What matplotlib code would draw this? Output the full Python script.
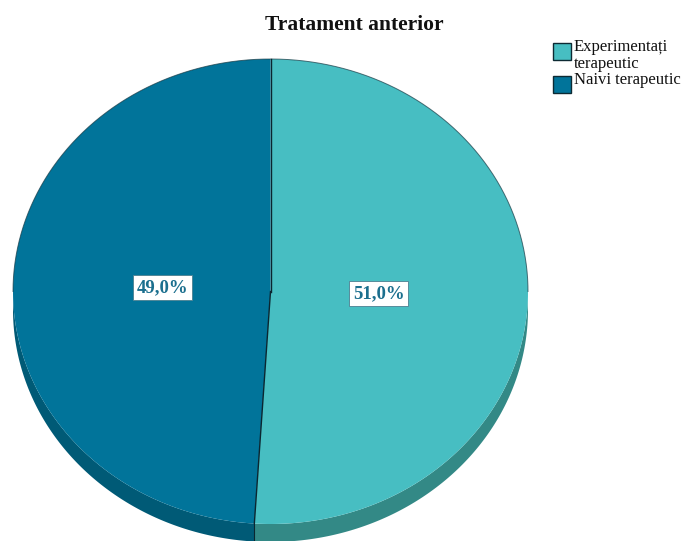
import numpy as np
import matplotlib
matplotlib.use("Agg")
import matplotlib.pyplot as plt
from matplotlib.patches import Polygon, Rectangle

# Data
categories = ["Experimentați\nterapeutic", "Naivi terapeutic"]
values = [51.0, 49.0]
labels = ["51,0%", "49,0%"]
title = "Tratament anterior"

top_colors = ["#47BEC2", "#01749A"]
side_colors = ["#338986", "#005A76"]
label_color = "#1B6F8E"

W, H = 686, 541
fig = plt.figure(figsize=(W / 100, H / 100), dpi=100)
ax = fig.add_axes([0, 0, 1, 1])
ax.set_xlim(0, W)
ax.set_ylim(H, 0)
ax.axis("off")

# Pie geometry (pixel units, y downwards)
cx, cy = 270.5, 291.5
rx, ry = 257.5, 232.5
depth = 18


def pt(theta, dy=0.0):
    """Point on the ellipse for a clockwise angle measured from 12 o'clock."""
    return cx + rx * np.sin(theta), cy - ry * np.cos(theta) + dy


fracs = np.array(values) / np.sum(values)
bounds = np.concatenate([[0.0], np.cumsum(fracs)]) * 2 * np.pi

# Side walls (visible between 90° and 270° clockwise from top)
for i in range(len(values)):
    a0 = max(bounds[i], np.pi / 2)
    a1 = min(bounds[i + 1], 3 * np.pi / 2)
    if a1 <= a0:
        continue
    t = np.linspace(a0, a1, 200)
    xs, ys = pt(t)
    xb, yb = pt(t[::-1], depth)
    poly = np.column_stack([np.concatenate([xs, xb]), np.concatenate([ys, yb])])
    ax.add_patch(Polygon(poly, closed=True, facecolor=side_colors[i],
                         edgecolor="none", zorder=1))

# Top faces
for i in range(len(values)):
    t = np.linspace(bounds[i], bounds[i + 1], 400)
    xs, ys = pt(t)
    poly = np.column_stack([np.concatenate([[cx], xs]), np.concatenate([[cy], ys])])
    ax.add_patch(Polygon(poly, closed=True, facecolor=top_colors[i],
                         edgecolor="none", zorder=2))

# Outline of the top face and the slice borders
t = np.linspace(-np.pi / 2, np.pi / 2, 400)
xs, ys = pt(t)
ax.plot(xs, ys, color="#1a3a44", lw=0.7, alpha=0.7, zorder=3)
for b in bounds[:-1]:
    x1, y1 = pt(b)
    ax.plot([cx, x1], [cy, y1], color="#0b2630", lw=1.0, zorder=3)
    if np.pi / 2 < b < 3 * np.pi / 2:
        ax.plot([x1, x1], [y1, y1 + depth], color="#0b2630", lw=0.8, zorder=3)

# Percentage labels
for i in range(len(values)):
    mid = (bounds[i] + bounds[i + 1]) / 2
    lx = cx + 0.42 * rx * np.sin(mid)
    ly = cy - 0.42 * ry * np.cos(mid) - 1
    ax.text(lx, ly, labels[i], ha="center", va="center", fontsize=13.5,
            fontweight="bold", family="Liberation Serif", color=label_color,
            zorder=5,
            bbox=dict(boxstyle="square,pad=0.2", facecolor="white",
                      edgecolor="#4a7f90", linewidth=0.6))

# Title
ax.text(cx + 84, 25, title, ha="center", va="center", fontsize=15.5,
        fontweight="bold", family="Liberation Serif", color="#111111")

# Legend
leg_x, leg_y0 = 553, 43
y = leg_y0
for i, cat in enumerate(categories):
    ax.add_patch(Rectangle((leg_x, y), 18, 17, facecolor=top_colors[i],
                           edgecolor="#0d2a33", lw=1.0, zorder=4))
    ax.text(leg_x + 21, y - 4, cat, ha="left", va="top", fontsize=12,
            family="Liberation Serif", color="#111111", linespacing=1.05)
    y += 32.5 if "\n" in cat else 17.5

fig.savefig("out.png", dpi=100)
